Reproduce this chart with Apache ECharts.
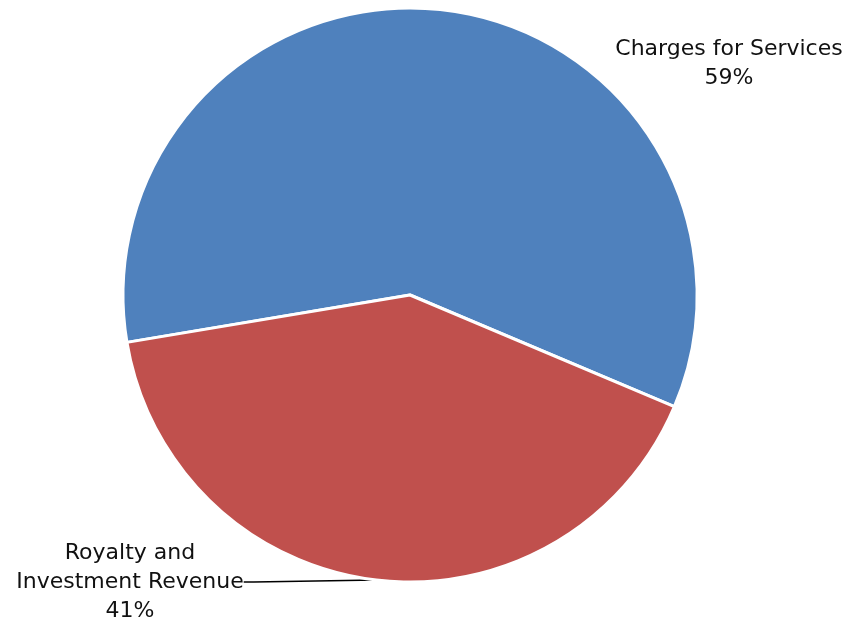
<!DOCTYPE html>
<html>
<head>
<meta charset="utf-8">
<script src="https://cdn.jsdelivr.net/npm/echarts@6/dist/echarts.min.js"></script>
<style>
  html, body { margin: 0; padding: 0; background: #ffffff; }
  #chart { width: 851px; height: 624px; }
</style>
</head>
<body>
<div id="chart"></div>
<script>
// Revenue mix by source
const categories = ['Charges for Services', 'Royalty and\nInvestment Revenue'];
const shares = [59, 41];
const colors = ['#4F81BD', '#C0504D'];

// where each slice's caption sits (centre of the text block)
const labelSpots = [
  { x: 729, y: 64 },
  { x: 130, y: 582 }
];

const chart = echarts.init(document.getElementById('chart'));
chart.setOption({
  animation: false,
  textStyle: { fontFamily: 'DejaVu Sans' },
  series: [{
    type: 'pie',
    center: [410, 295],
    radius: [0, 287],
    startAngle: 189.5,
    clockwise: true,
    data: categories.map((name, i) => ({
      name: name,
      value: shares[i],
      itemStyle: { color: colors[i] },
      labelLine: { show: i === 1 }
    })),
    itemStyle: { borderColor: '#ffffff', borderWidth: 3 },
    label: {
      show: true,
      position: 'outside',
      formatter: p => p.name + '\n' + p.value + '%',
      color: '#111111',
      fontSize: 22,
      lineHeight: 29,
      align: 'center'
    },
    labelLine: {
      lineStyle: { color: '#000000', width: 1.5 },
      length: 10,
      length2: 10
    },
    labelLayout: function (params) {
      const s = labelSpots[params.dataIndex];
      return { x: s.x, y: s.y, align: 'center', verticalAlign: 'middle' };
    }
  }]
});
</script>
</body>
</html>
